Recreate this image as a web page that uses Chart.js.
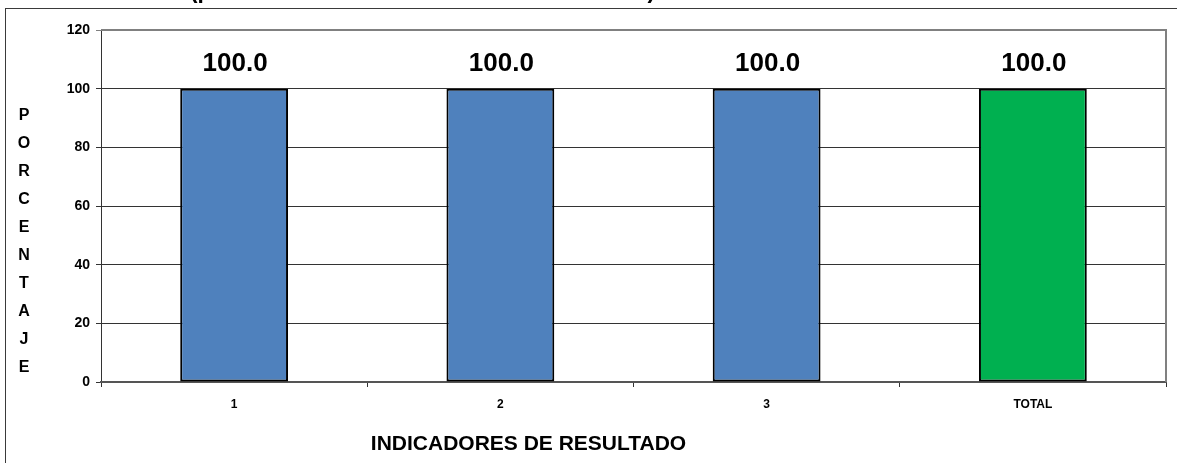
<!DOCTYPE html>
<html>
<head>
<meta charset="utf-8">
<script src="https://cdn.jsdelivr.net/npm/chart.js@4.4.1/dist/chart.umd.min.js"></script>
<style>
  html, body { margin:0; padding:0; background:#fff; }
  #wrap { width:1177px; height:463px; }
</style>
</head>
<body>
<div id="wrap"><canvas id="chart" width="1177" height="463"></canvas></div>
<script>
// Chart data
const categories  = ['1', '2', '3', 'TOTAL'];
const values      = [100.0, 100.0, 100.0, 100.0];
const barColors   = ['#4F81BD', '#4F81BD', '#4F81BD', '#00B050'];
const yTicks      = [0, 20, 40, 60, 80, 100, 120];
const titleText   = '(promedio de los indicadores de resultado)';
const yTitle      = 'PORCENTAJE';
const xTitle      = 'INDICADORES DE RESULTADO';

const FONT = 'Arial, "Liberation Sans", sans-serif';

// ─── Decorations: outer frame, clipped title, axis titles, value labels ───
const decorPlugin = {
    id: 'decor',
    beforeDraw(chart) {
        const c = chart.ctx;
        c.save();
        c.fillStyle = '#fff';
        c.fillRect(0, 0, chart.width, chart.height);
        // outer frame (runs past the right and bottom edges)
        c.strokeStyle = '#3a3a3a';
        c.lineWidth = 1;
        c.strokeRect(5.5, 8.5, chart.width + 20, chart.height + 20);
        // title, almost entirely above the visible area
        c.fillStyle = '#000';
        c.font = 'bold 20px ' + FONT;
        const w = c.measureText(titleText).width;
        const fs = 20 * 465 / w;
        c.font = 'bold ' + fs.toFixed(1) + 'px ' + FONT;
        c.textBaseline = 'alphabetic';
        c.textAlign = 'left';
        c.fillText(titleText, 190, -2);
        c.restore();
    },
    afterDraw(chart) {
        const c = chart.ctx;
        const area = chart.chartArea;
        c.save();
        // gray border on top and right of plot area
        c.strokeStyle = '#808080';
        c.lineWidth = 2;
        c.beginPath();
        c.moveTo(area.left, area.top);
        c.lineTo(area.right, area.top);
        c.lineTo(area.right, area.bottom);
        c.stroke();

        // stacked vertical y title
        c.fillStyle = '#000';
        c.font = 'bold 16px ' + FONT;
        c.textAlign = 'center';
        c.textBaseline = 'middle';
        yTitle.split('').forEach((ch, i) => c.fillText(ch, 24, 116 + i * 28));

        // x title
        c.font = 'bold 21px ' + FONT;
        c.fillText(xTitle, (area.left + area.right) / 2 - 105, 444);

        // value labels above the bars
        c.font = 'bold 26px ' + FONT;
        c.textBaseline = 'alphabetic';
        const meta = chart.getDatasetMeta(0);
        meta.data.forEach((bar, i) => {
            c.fillText(values[i].toFixed(1), bar.x + 1, bar.y - 18);
        });
        c.restore();
    }
};

new Chart(document.getElementById('chart'), {
    type: 'bar',
    data: {
        labels: categories,
        datasets: [{
            data: values,
            backgroundColor: barColors,
            borderColor: '#000',
            borderWidth: 2,
            borderSkipped: false,
            categoryPercentage: 1.0,
            barPercentage: 0.405
        }]
    },
    options: {
        responsive: false,
        animation: false,
        devicePixelRatio: 1,
        layout: { padding: { top: 30, right: 11, left: 0, bottom: 0 } },
        plugins: {
            legend: { display: false },
            tooltip: { enabled: false }
        },
        scales: {
            y: {
                min: 0,
                max: 120,
                afterBuildTicks(scale) { scale.ticks = yTicks.map(v => ({ value: v })); },
                afterFit(scale) { scale.width = 101; },
                grid: {
                    color: ctx => ctx.tick && ctx.tick.value === 120 ? '#808080' : '#333',
                    lineWidth: 1,
                    tickLength: 5,
                    drawTicks: true
                },
                border: { display: true, color: '#333', width: 1 },
                ticks: {
                    color: '#000',
                    font: { family: FONT, size: 14, weight: 'bold' },
                    padding: 6
                }
            },
            x: {
                afterFit(scale) { scale.height = 81; },
                grid: {
                    offset: true,
                    drawOnChartArea: false,
                    color: '#333',
                    tickLength: 5
                },
                border: { display: true, color: '#555', width: 2 },
                ticks: {
                    color: '#000',
                    font: { family: FONT, size: 12, weight: 'bold' },
                    padding: 10
                }
            }
        }
    },
    plugins: [decorPlugin]
});
</script>
</body>
</html>
